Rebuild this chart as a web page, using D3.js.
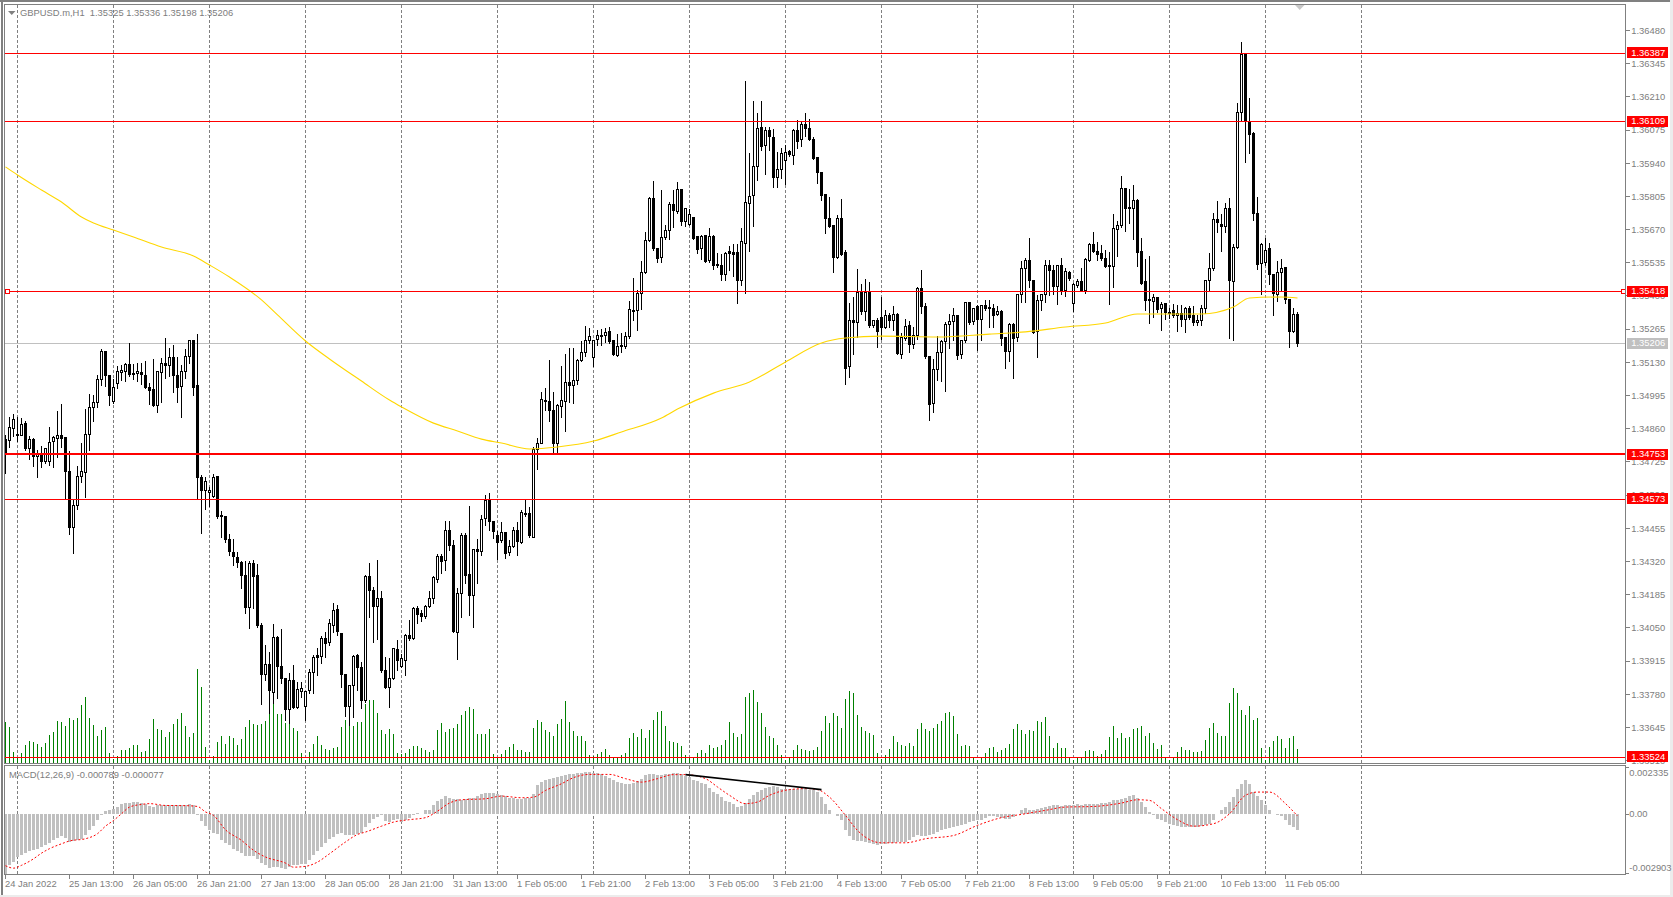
<!DOCTYPE html>
<html><head><meta charset="utf-8"><title>GBPUSD.m,H1</title>
<script src="https://cdn.jsdelivr.net/npm/d3@7/dist/d3.min.js"></script>
<style>html,body{margin:0;padding:0;background:#fff;overflow:hidden}svg{display:block}text{font-family:"Liberation Sans",Arial,sans-serif;font-size:9.4px}</style>
</head><body><svg id="c" width="1673" height="897"></svg>
<script>
const opens=[1.34817,1.34812,1.34861,1.34836,1.34833,1.34880,1.34779,1.34817,1.34747,1.34758,
1.34726,1.34726,1.34808,1.34821,1.34833,1.34823,1.34687,1.34458,1.34549,1.34665,
1.34683,1.34838,1.34947,1.34968,1.35061,1.35175,1.35078,1.34970,1.35045,1.35090,
1.35092,1.35122,1.35086,1.35084,1.35090,1.35078,1.35029,1.35018,1.34954,1.35088,
1.35126,1.35117,1.35151,1.35078,1.35031,1.35094,1.35153,1.35219,1.35034,1.34663,
1.34608,1.34600,1.34584,1.34664,1.34508,1.34505,1.34410,1.34357,1.34338,1.34318,
1.34264,1.34134,1.34313,1.34264,1.34061,1.33860,1.33902,1.33787,1.34012,1.33894,
1.33845,1.33719,1.33838,1.33727,1.33791,1.33730,1.33795,1.33868,1.33936,1.33933,
1.34008,1.33990,1.34059,1.34125,1.34028,1.33861,1.33729,1.33815,1.33936,1.33889,
1.33757,1.34261,1.34201,1.34136,1.34170,1.33876,1.33807,1.33845,1.33963,1.33895,
1.33918,1.34020,1.34007,1.34129,1.34109,1.34096,1.34136,1.34170,1.34247,1.34341,
1.34323,1.34447,1.34386,1.34032,1.34190,1.34426,1.34269,1.34181,1.34369,1.34359,
1.34496,1.34570,1.34483,1.34426,1.34407,1.34439,1.34356,1.34380,1.34448,1.34399,
1.34516,1.34516,1.34418,1.34776,1.34801,1.34977,1.34971,1.34936,1.34801,1.34950,
1.34970,1.35047,1.35038,1.35055,1.35137,1.35169,1.35217,1.35150,1.35223,1.35241,
1.35240,1.35256,1.35217,1.35157,1.35200,1.35193,1.35234,1.35343,1.35340,1.35410,
1.35496,1.35625,1.35797,1.35594,1.35555,1.35637,1.35665,1.35772,1.35744,1.35834,
1.35702,1.35690,1.35721,1.35641,1.35592,1.35648,1.35543,1.35644,1.35530,1.35526,
1.35486,1.35579,1.35575,1.35575,1.35462,1.35614,1.35777,1.35809,1.35927,1.36086,
1.36011,1.36074,1.36045,1.35881,1.35915,1.35950,1.35988,1.35970,1.36074,1.36037,
1.36098,1.36082,1.36038,1.35964,1.35904,1.35813,1.35716,1.35688,1.35555,1.35716,
1.35578,1.35112,1.35302,1.35294,1.35413,1.35338,1.35417,1.35279,1.35302,1.35313,
1.35272,1.35321,1.35299,1.35325,1.35163,1.35227,1.35281,1.35203,1.35241,1.35431,
1.35359,1.35155,1.34963,1.35101,1.35170,1.35214,1.35283,1.35296,1.35322,1.35162,
1.35218,1.35374,1.35295,1.35359,1.35303,1.35361,1.35352,1.35349,1.35323,1.35337,
1.35230,1.35173,1.35284,1.35231,1.35406,1.35511,1.35546,1.35465,1.35254,1.35380,
1.35406,1.35526,1.35505,1.35437,1.35524,1.35421,1.35497,1.35370,1.35443,1.35460,
1.35424,1.35546,1.35610,1.35583,1.35571,1.35553,1.35526,1.35519,1.35672,1.35686,
1.35838,1.35761,1.35755,1.35789,1.35579,1.35457,1.35386,1.35377,1.35394,1.35348,
1.35369,1.35333,1.35342,1.35320,1.35329,1.35305,1.35350,1.35319,1.35291,1.35300,
1.35350,1.35462,1.35511,1.35712,1.35691,1.35682,1.35757,1.35458,1.35596,1.36147,
1.36384,1.36109,1.36062,1.35736,1.35533,1.35536,1.35594,1.35488,1.35407,1.35496,
1.35514,1.35386,1.35255,1.35325];
const highs=[1.34835,1.34907,1.34920,1.34907,1.34904,1.34890,1.34831,1.34823,1.34774,1.34790,
1.34781,1.34869,1.34831,1.34932,1.34961,1.34823,1.34771,1.34570,1.34709,1.34801,
1.34939,1.35002,1.34998,1.35080,1.35185,1.35175,1.35078,1.35061,1.35115,1.35120,
1.35129,1.35209,1.35124,1.35126,1.35126,1.35137,1.35048,1.35143,1.35094,1.35147,
1.35229,1.35189,1.35201,1.35153,1.35120,1.35183,1.35219,1.35219,1.35246,1.34672,
1.34663,1.34625,1.34676,1.34668,1.34527,1.34505,1.34432,1.34410,1.34360,1.34324,
1.34324,1.34324,1.34326,1.34309,1.34071,1.33981,1.33953,1.34066,1.34017,1.34044,
1.33845,1.33865,1.33899,1.33831,1.33831,1.33795,1.33882,1.33939,1.33967,1.34017,
1.34035,1.34085,1.34153,1.34143,1.34028,1.33862,1.33816,1.33938,1.33944,1.33913,
1.34265,1.34313,1.34218,1.34326,1.34199,1.33933,1.33926,1.33967,1.34003,1.33946,
1.34025,1.34082,1.34134,1.34139,1.34123,1.34143,1.34200,1.34261,1.34350,1.34350,
1.34485,1.34483,1.34407,1.34211,1.34437,1.34435,1.34546,1.34369,1.34410,1.34509,
1.34592,1.34597,1.34486,1.34445,1.34481,1.34439,1.34407,1.34462,1.34482,1.34530,
1.34573,1.34543,1.34787,1.34821,1.35010,1.35024,1.35139,1.35010,1.34960,1.35115,
1.35166,1.35187,1.35187,1.35142,1.35218,1.35278,1.35268,1.35221,1.35261,1.35264,
1.35268,1.35272,1.35217,1.35244,1.35248,1.35255,1.35381,1.35472,1.35424,1.35543,
1.35659,1.35804,1.35867,1.35594,1.35831,1.35688,1.35783,1.35831,1.35862,1.35834,
1.35756,1.35752,1.35721,1.35644,1.35648,1.35650,1.35675,1.35648,1.35573,1.35570,
1.35580,1.35603,1.35611,1.35611,1.35678,1.36274,1.35980,1.36193,1.36143,1.36192,
1.36088,1.36088,1.36078,1.35987,1.36003,1.36014,1.35994,1.36078,1.36116,1.36109,
1.36143,1.36118,1.36045,1.35964,1.35905,1.35813,1.35804,1.35688,1.35729,1.35793,
1.35587,1.35372,1.35397,1.35509,1.35448,1.35471,1.35458,1.35302,1.35309,1.35397,
1.35342,1.35329,1.35359,1.35329,1.35248,1.35306,1.35299,1.35275,1.35437,1.35505,
1.35370,1.35155,1.35142,1.35238,1.35220,1.35295,1.35326,1.35353,1.35322,1.35223,
1.35374,1.35374,1.35349,1.35365,1.35363,1.35383,1.35383,1.35367,1.35359,1.35345,
1.35230,1.35291,1.35291,1.35408,1.35543,1.35553,1.35634,1.35467,1.35403,1.35408,
1.35546,1.35546,1.35526,1.35526,1.35553,1.35512,1.35502,1.35451,1.35471,1.35512,
1.35553,1.35614,1.35660,1.35621,1.35607,1.35587,1.35580,1.35733,1.35705,1.35888,
1.35841,1.35835,1.35851,1.35793,1.35634,1.35552,1.35563,1.35408,1.35397,1.35377,
1.35373,1.35350,1.35367,1.35363,1.35363,1.35357,1.35359,1.35359,1.35323,1.35363,
1.35465,1.35573,1.35739,1.35785,1.35733,1.35777,1.35800,1.35611,1.36186,1.36432,
1.36387,1.36204,1.36067,1.35801,1.35614,1.35634,1.35614,1.35488,1.35542,1.35549,
1.35514,1.35386,1.35350,1.35336];
const lows=[1.34679,1.34787,1.34831,1.34812,1.34833,1.34774,1.34739,1.34709,1.34665,1.34706,
1.34722,1.34713,1.34706,1.34747,1.34787,1.34573,1.34432,1.34356,1.34532,1.34645,
1.34584,1.34774,1.34893,1.34950,1.35038,1.35034,1.34957,1.34966,1.35025,1.35059,
1.35056,1.35075,1.35063,1.35054,1.35042,1.35025,1.34961,1.34953,1.34930,1.34970,
1.35065,1.35075,1.35011,1.34970,1.34909,1.35065,1.35129,1.34998,1.34577,1.34437,
1.34534,1.34546,1.34584,1.34496,1.34421,1.34401,1.34347,1.34306,1.34299,1.34214,
1.34112,1.34051,1.34130,1.34055,1.33741,1.33838,1.33703,1.33746,1.33764,1.33825,
1.33675,1.33662,1.33723,1.33723,1.33770,1.33675,1.33787,1.33787,1.33859,1.33909,
1.33933,1.33981,1.34035,1.34021,1.33811,1.33692,1.33655,1.33689,1.33797,1.33723,
1.33750,1.34096,1.33994,1.34005,1.33872,1.33804,1.33729,1.33841,1.33881,1.33892,
1.33858,1.34001,1.34006,1.34071,1.34079,1.34092,1.34136,1.34150,1.34238,1.34275,
1.34285,1.34367,1.34035,1.33925,1.34096,1.34231,1.34102,1.34055,1.34234,1.34346,
1.34469,1.34448,1.34414,1.34332,1.34401,1.34334,1.34346,1.34378,1.34346,1.34397,
1.34505,1.34421,1.34418,1.34696,1.34801,1.34936,1.34893,1.34760,1.34760,1.34909,
1.34852,1.34970,1.34966,1.35044,1.35137,1.35156,1.35207,1.35115,1.35200,1.35202,
1.35214,1.35207,1.35160,1.35156,1.35173,1.35187,1.35231,1.35302,1.35261,1.35347,
1.35492,1.35625,1.35589,1.35539,1.35537,1.35630,1.35633,1.35682,1.35739,1.35687,
1.35684,1.35688,1.35631,1.35576,1.35550,1.35537,1.35539,1.35508,1.35519,1.35465,
1.35465,1.35505,1.35481,1.35372,1.35443,1.35413,1.35583,1.35686,1.35872,1.35994,
1.35896,1.35994,1.35844,1.35844,1.35878,1.35855,1.35969,1.35937,1.36000,1.36010,
1.36050,1.36034,1.35956,1.35858,1.35790,1.35655,1.35679,1.35499,1.35553,1.35566,
1.35044,1.35071,1.35163,1.35234,1.35326,1.35302,1.35275,1.35275,1.35193,1.35227,
1.35268,1.35275,1.35261,1.35163,1.35148,1.35223,1.35173,1.35187,1.35227,1.35329,
1.35146,1.34895,1.34928,1.35060,1.35055,1.35014,1.35187,1.35220,1.35145,1.35146,
1.35214,1.35285,1.35288,1.35180,1.35220,1.35342,1.35275,1.35272,1.35321,1.35200,
1.35107,1.35136,1.35067,1.35218,1.35375,1.35376,1.35437,1.35250,1.35153,1.35342,
1.35376,1.35403,1.35408,1.35367,1.35410,1.35399,1.35465,1.35338,1.35437,1.35420,
1.35413,1.35544,1.35580,1.35546,1.35546,1.35517,1.35366,1.35438,1.35563,1.35682,
1.35664,1.35698,1.35632,1.35522,1.35449,1.35343,1.35291,1.35316,1.35336,1.35262,
1.35306,1.35309,1.35313,1.35258,1.35278,1.35255,1.35305,1.35282,1.35282,1.35282,
1.35332,1.35424,1.35506,1.35662,1.35584,1.35662,1.35230,1.35221,1.35594,1.36110,
1.35946,1.35983,1.35709,1.35508,1.35408,1.35526,1.35449,1.35323,1.35381,1.35424,
1.35373,1.35194,1.35255,1.35198];
const closes=[1.34758,1.34866,1.34896,1.34832,1.34878,1.34779,1.34817,1.34747,1.34760,1.34726,
1.34781,1.34804,1.34825,1.34833,1.34821,1.34686,1.34458,1.34549,1.34667,1.34687,
1.34838,1.34947,1.34968,1.35061,1.35175,1.35076,1.34995,1.35029,1.35091,1.35095,
1.35120,1.35079,1.35080,1.35094,1.35080,1.35027,1.35015,1.34954,1.35094,1.35126,
1.35117,1.35151,1.35075,1.35027,1.35094,1.35155,1.35219,1.35027,1.34661,1.34608,
1.34646,1.34610,1.34663,1.34503,1.34503,1.34408,1.34360,1.34340,1.34318,1.34263,
1.34134,1.34313,1.34258,1.34058,1.33860,1.33902,1.33795,1.34012,1.33892,1.33844,
1.33719,1.33838,1.33727,1.33800,1.33803,1.33792,1.33868,1.33930,1.33930,1.34008,
1.33987,1.34069,1.34123,1.34035,1.33860,1.33729,1.33816,1.33934,1.33888,1.33757,
1.34261,1.34201,1.34136,1.34170,1.33876,1.33807,1.33845,1.33967,1.33919,1.33926,
1.34020,1.34007,1.34129,1.34105,1.34096,1.34136,1.34170,1.34256,1.34341,1.34319,
1.34447,1.34384,1.34035,1.34190,1.34424,1.34262,1.34181,1.34369,1.34359,1.34492,
1.34570,1.34482,1.34441,1.34397,1.34437,1.34353,1.34380,1.34448,1.34401,1.34520,
1.34512,1.34424,1.34776,1.34801,1.34979,1.34970,1.34934,1.34801,1.34953,1.34974,
1.35047,1.35038,1.35057,1.35139,1.35170,1.35219,1.35236,1.35221,1.35240,1.35238,
1.35253,1.35214,1.35162,1.35195,1.35193,1.35237,1.35345,1.35337,1.35410,1.35496,
1.35625,1.35797,1.35592,1.35552,1.35638,1.35667,1.35772,1.35747,1.35834,1.35701,
1.35756,1.35732,1.35635,1.35588,1.35644,1.35542,1.35644,1.35523,1.35523,1.35486,
1.35573,1.35573,1.35570,1.35465,1.35622,1.35781,1.35805,1.35927,1.36082,1.36010,
1.36074,1.36048,1.35881,1.35915,1.35980,1.35984,1.35975,1.36075,1.36027,1.36098,
1.36080,1.36037,1.35958,1.35901,1.35810,1.35714,1.35682,1.35555,1.35716,1.35569,
1.35107,1.35302,1.35291,1.35416,1.35338,1.35416,1.35279,1.35302,1.35254,1.35272,
1.35321,1.35299,1.35325,1.35165,1.35230,1.35276,1.35201,1.35241,1.35431,1.35356,
1.35153,1.34960,1.35101,1.35170,1.35216,1.35285,1.35296,1.35321,1.35159,1.35220,
1.35374,1.35291,1.35349,1.35303,1.35361,1.35349,1.35349,1.35322,1.35337,1.35227,
1.35173,1.35284,1.35227,1.35408,1.35512,1.35546,1.35462,1.35252,1.35383,1.35406,
1.35524,1.35502,1.35437,1.35524,1.35421,1.35500,1.35470,1.35447,1.35459,1.35424,
1.35549,1.35610,1.35583,1.35568,1.35552,1.35519,1.35519,1.35675,1.35687,1.35838,
1.35755,1.35755,1.35789,1.35576,1.35451,1.35381,1.35381,1.35394,1.35347,1.35366,
1.35333,1.35331,1.35320,1.35329,1.35305,1.35350,1.35313,1.35291,1.35301,1.35350,
1.35464,1.35511,1.35712,1.35698,1.35682,1.35757,1.35462,1.35596,1.36147,1.36384,
1.36113,1.36056,1.35736,1.35530,1.35610,1.35587,1.35488,1.35411,1.35496,1.35512,
1.35384,1.35255,1.35325,1.35206];
const volumes=[124,109,34,19,31,54,66,64,58,49,61,85,94,127,124,112,136,130,136,175,
199,136,115,82,100,109,31,13,22,40,40,46,54,55,34,37,73,133,103,100,
79,94,118,133,151,112,79,91,282,229,49,10,22,64,82,58,82,76,55,73,
109,130,118,115,118,127,178,190,148,148,120,120,106,97,31,10,32,58,82,55,
43,38,46,49,107,129,114,111,124,124,177,189,189,151,99,87,102,87,29,27,
31,42,51,51,44,39,34,39,99,119,93,101,105,117,144,156,168,162,87,87,
87,102,27,14,27,39,47,57,39,39,34,34,104,128,123,99,93,81,117,132,
186,123,97,81,81,66,24,20,27,34,42,24,14,17,24,29,74,89,77,102,
74,99,129,153,156,111,66,63,60,51,24,14,17,30,39,30,54,45,48,54,
69,123,90,78,87,198,210,219,183,150,108,81,75,54,24,9,17,39,54,42,
39,36,39,48,96,141,120,150,141,105,192,216,210,144,108,96,90,84,30,12,
24,42,81,63,54,51,60,51,102,120,102,96,105,117,126,150,153,141,87,51,
54,51,15,9,16,30,45,48,33,39,45,57,102,117,99,87,99,96,126,123,
138,81,45,60,45,45,14,10,14,16,36,39,36,21,27,39,78,111,75,90,
75,78,102,105,111,81,90,60,42,54,14,8,14,33,48,39,39,33,33,36,
69,105,120,90,81,81,180,225,210,159,144,171,130,136,46,10,49,67,82,73,
46,76,82,43];
const macdHist=[-296,-251,-235,-210,-202,-191,-181,-177,-169,-161,-153,-140,-128,-115,-108,-117,-135,-133,-125,-120,
-104,-79,-56,-30,-3,16,23,28,36,49,56,58,59,59,58,49,39,36,44,48,
48,48,46,44,44,48,49,44,-2,-33,-59,-79,-92,-99,-125,-141,-153,-169,-182,-189,
-207,-205,-205,-219,-240,-250,-263,-260,-260,-263,-271,-260,-251,-248,-246,-243,-223,-200,-181,-161,
-141,-123,-112,-99,-92,-104,-104,-104,-99,-92,-62,-43,-21,-13,-5,-35,-38,-30,-21,-38,
-26,-18,-5,7,3,20,23,44,66,77,89,82,77,74,72,76,79,82,92,102,
105,104,104,102,95,89,82,79,77,76,79,82,102,143,159,171,176,181,184,187,
192,197,200,204,205,207,207,205,204,200,191,181,171,161,154,151,151,154,164,176,
192,197,197,196,194,197,200,202,204,197,191,184,171,164,154,148,131,110,99,85,
66,59,49,36,43,56,77,94,110,122,128,135,138,135,127,125,127,125,127,127,
123,122,118,110,85,53,23,3,-10,-30,-79,-108,-125,-130,-133,-136,-141,-148,-153,-148,
-145,-143,-141,-138,-136,-136,-125,-112,-104,-105,-105,-104,-95,-87,-79,-72,-67,-62,-56,-51,
-46,-39,-35,-30,-26,-16,-10,-7,-13,-20,-23,-21,-13,3,20,33,23,23,28,30,
36,39,44,44,43,44,44,46,49,48,53,53,49,53,56,56,61,69,72,77,
82,89,94,82,61,36,11,-5,-21,-30,-38,-46,-51,-58,-62,-62,-64,-64,-62,-59,
-53,-46,-26,3,20,36,61,85,127,151,168,148,110,89,69,44,20,3,-2,-10,
-30,-54,-62,-79];
const signalBars=[0,2,4,7,9,11,14,16,20,23,25,27,29,31,34,36,40,45,48,50,52,55,59,62,65,70,72,75,78,81,85,88,90,94,97,101,105,108,111,114,120,124,129,132,135,139,142,146,151,155,159,163,167,170,175,178,181,185,188,191,196,200,203,206,210,213,219,225,230,237,243,249,254,260,265,272,279,283,286,289,293,297,302,306,310,313,316,320,323];
const signalVals=[-253,-265,-251,-219,-191,-169,-145,-131,-120,-95,-58,-30,3,36,49,53,44,43,39,12,-5,-76,-128,-177,-210,-240,-260,-256,-235,-194,-136,-99,-87,-58,-38,-26,-16,16,56,72,77,90,82,85,118,151,181,197,197,176,159,176,196,196,176,135,94,53,61,94,122,127,122,85,-5,-79,-140,-140,-120,-104,-54,-16,0,20,36,39,56,72,69,28,-26,-58,-46,3,94,110,110,53,-8];
const maBars=[0,3,9,14,19,22,27,32,39,47,51,56,64,68,75,81,89,96,99,107,113,119,124,131,138,147,154,164,168,177,186,195,204,210,219,233,246,255,265,275,283,299,307,311,319,323];
const maVals=[1.35925,1.35892,1.35831,1.35782,1.35721,1.35697,1.35668,1.35640,1.35599,1.35563,1.35526,1.35477,1.35384,1.35323,1.35217,1.35144,1.35054,1.34977,1.34949,1.34883,1.34851,1.34818,1.34802,1.34778,1.34786,1.34810,1.34847,1.34904,1.34940,1.35005,1.35050,1.35132,1.35209,1.35229,1.35237,1.35233,1.35245,1.35254,1.35274,1.35290,1.35327,1.35327,1.35355,1.35392,1.35396,1.35392];
const trendBars=[170,204];
const trendVals=[196,122];
const gridBars=[3,27,51,75,99,123,147,171,195,219,243,267,291,315,339];
const timeBars=[0,16,32,48,64,80,96,112,128,144,160,176,192,208,224,240,256,272,288,304,320];
const timeLabels=["24 Jan 2022","25 Jan 13:00","26 Jan 05:00","26 Jan 21:00","27 Jan 13:00","28 Jan 05:00","28 Jan 21:00","31 Jan 13:00","1 Feb 05:00","1 Feb 21:00","2 Feb 13:00","3 Feb 05:00","3 Feb 21:00","4 Feb 13:00","7 Feb 05:00","7 Feb 21:00","8 Feb 13:00","9 Feb 05:00","9 Feb 21:00","10 Feb 13:00","11 Feb 05:00"];
const priceTicks=[1.36480,1.36345,1.36210,1.36075,1.35940,1.35805,1.35670,1.35535,1.35400,1.35265,1.35130,1.34995,1.34860,1.34725,1.34590,1.34455,1.34320,1.34185,1.34050,1.33915,1.33780,1.33645,1.33510];
const levels=[1.36387,1.36109,1.35418,1.34753,1.34573,1.33524];
const thickLevel=1.34753;
const markedLevel=1.35418;
const lastPrice=1.35206;
const macdTicks=[233.5,0,-290.3];
const macdTickLabels=["0.002335","0.00","-0.002903"];
const macdTickTextY=[772.7,814,867.7];
const titleText="GBPUSD.m,H1  1.35325 1.35336 1.35198 1.35206";
const macdTitle="MACD(12,26,9) -0.000789 -0.000077";

const paneL=4.5,paneR=1625.5,paneT=4.5,mainBottom=763.5,macdTop=765.5,macdBottom=874;
const GREY="#808080",TXT="#7d7d7d",RED="#ff0000";
const x=d3.scaleLinear().domain([0,323]).range([5.5,1297.5]);
const y=d3.scaleLinear().domain([1.36387,1.33524]).range([53.3,757.3]);
const yVol=d3.scaleLinear().domain([0,309]).range([763,660]);
const yM=d3.scaleLinear().domain([-290.3,233.5]).range([873.3,767]);
const px=v=>Math.floor(v)+.5;
const svg=d3.select("#c");
const defs=svg.append("defs");
defs.append("clipPath").attr("id","cm").append("rect").attr("x",paneL).attr("y",paneT).attr("width",paneR-paneL).attr("height",mainBottom-paneT);
defs.append("clipPath").attr("id","cd").append("rect").attr("x",paneL).attr("y",macdTop).attr("width",paneR-paneL).attr("height",macdBottom-macdTop);

// window frame
svg.append("rect").attr("width",1673).attr("height",897).attr("fill","#fff");
svg.append("rect").attr("x",0).attr("y",0).attr("width",1673).attr("height",2).attr("fill",GREY);
svg.append("rect").attr("x",1).attr("y",0).attr("width",2).attr("height",897).attr("fill",GREY);
svg.append("rect").attr("x",0).attr("y",895).attr("width",1673).attr("height",2).attr("fill","#ececec");
svg.append("rect").attr("x",1670).attr("y",0).attr("width",3).attr("height",897).attr("fill","#ececec");

const crisp=g=>g.attr("shape-rendering","crispEdges");
const main=svg.append("g").attr("clip-path","url(#cm)");
const macd=svg.append("g").attr("clip-path","url(#cd)");

// grid
[[main,paneT,mainBottom],[macd,macdTop,macdBottom]].forEach(([g,a,b])=>{
  g.append("g").call(crisp).selectAll("line").data(gridBars).join("line")
   .attr("x1",d=>x(d)).attr("x2",d=>x(d)).attr("y1",a).attr("y2",b)
   .attr("stroke",GREY).attr("stroke-dasharray","3 2");
});

// current-price line behind the candles
main.append("line").call(crisp).attr("x1",paneL).attr("x2",paneR).attr("y1",px(y(lastPrice))).attr("y2",px(y(lastPrice))).attr("stroke","#c0c0c0");

// volumes
main.append("g").call(crisp).selectAll("line").data(volumes).join("line")
 .attr("x1",(d,i)=>x(i)).attr("x2",(d,i)=>x(i)).attr("y1",763).attr("y2",d=>yVol(d)).attr("stroke","#008000");

// candles
const candles=opens.map((o,i)=>({i,o,h:highs[i],l:lows[i],c:closes[i]}));
const cg=main.append("g").call(crisp);
cg.selectAll("line").data(candles).join("line")
 .attr("x1",d=>x(d.i)).attr("x2",d=>x(d.i)).attr("y1",d=>Math.round(y(d.h))).attr("y2",d=>Math.round(y(d.l))+1).attr("stroke","#000");
cg.selectAll("rect").data(candles).join("rect")
 .attr("x",d=>x(d.i)-1).attr("width",2)
 .attr("y",d=>px(y(Math.max(d.o,d.c))))
 .attr("height",d=>Math.max(1,px(y(Math.min(d.o,d.c)))-px(y(Math.max(d.o,d.c)))))
 .attr("fill",d=>d.c>=d.o?"#fff":"#000").attr("stroke","#000");

// moving average
main.append("path").datum(maBars).attr("fill","none").attr("stroke","#ffd700").attr("stroke-width",1.1)
 .attr("d",d3.line().x(d=>x(d)).y((d,i)=>y(maVals[i])).curve(d3.curveMonotoneX));

// horizontal levels
main.append("g").call(crisp).selectAll("line").data(levels).join("line")
 .attr("x1",paneL).attr("x2",paneR)
 .attr("y1",d=>d===thickLevel?Math.round(y(d))-1:px(y(d)))
 .attr("y2",d=>d===thickLevel?Math.round(y(d))-1:px(y(d)))
 .attr("stroke",RED).attr("stroke-width",d=>d===thickLevel?2:1);

// selected-level handles
[6,paneR-3.5].forEach(hx=>{
  svg.append("rect").call(crisp).attr("x",hx-.5).attr("y",px(y(markedLevel))-2).attr("width",4).attr("height",4).attr("fill","#fff").attr("stroke",RED);
});

// MACD histogram and signal
macd.append("g").call(crisp).selectAll("rect").data(macdHist).join("rect")
 .attr("x",(d,i)=>x(i)-1.5).attr("width",3)
 .attr("y",d=>Math.min(yM(d),yM(0))).attr("height",d=>Math.max(.6,Math.abs(yM(d)-yM(0))))
 .attr("fill","#c0c0c0");
macd.append("path").datum(signalBars).attr("fill","none").attr("stroke",RED).attr("stroke-width",1).attr("stroke-dasharray","2 2")
 .attr("d",d3.line().x(d=>x(d)).y((d,i)=>yM(signalVals[i])).curve(d3.curveMonotoneX));
macd.append("path").datum(trendBars).attr("fill","none").attr("stroke","#000").attr("stroke-width",1.6)
 .attr("d",d3.line().x(d=>x(d)).y((d,i)=>yM(trendVals[i])));

// frames
[[paneL,paneT,paneR-paneL,mainBottom-paneT],[paneL,macdTop,paneR-paneL,macdBottom-macdTop]].forEach(r=>{
  svg.append("rect").call(crisp).attr("x",r[0]).attr("y",r[1]).attr("width",r[2]).attr("height",r[3]).attr("fill","none").attr("stroke",GREY);
});

// triangles
svg.append("path").attr("d","M8,11L15.5,11L11.75,15Z").attr("fill",GREY);
svg.append("path").attr("d","M1295,5L1304.5,5L1299.75,10Z").attr("fill","#c8c8c8");

// titles
const T=(s,tx,ty,fill,anchor)=>svg.append("text").text(s).attr("x",tx).attr("y",ty).attr("dy","0.35em").attr("fill",fill||TXT).attr("text-anchor",anchor||"start").style("white-space","pre");
T(titleText,20,12.5);
T(macdTitle,9,774.7);

// price axis
const pAxis=svg.append("g");
pAxis.selectAll("line").data(priceTicks).join("line").call(crisp)
 .attr("x1",paneR).attr("x2",paneR+4).attr("y1",d=>px(y(d))).attr("y2",d=>px(y(d))).attr("stroke",GREY);
pAxis.selectAll("text").data(priceTicks).join("text").text(d=>d.toFixed(5))
 .attr("x",1631.3).attr("y",d=>y(d)).attr("dy","0.35em").attr("fill",TXT);

// level labels
const lab=svg.append("g");
lab.selectAll("rect.lv").data(levels).join("rect").attr("class","lv").call(crisp)
 .attr("x",1627).attr("width",41).attr("y",d=>Math.round(y(d))-6).attr("height",10.5).attr("fill",RED);
lab.selectAll("text.lv").data(levels).join("text").attr("class","lv").text(d=>d.toFixed(5))
 .attr("x",1631.3).attr("y",d=>y(d)-1).attr("dy","0.35em").attr("fill","#fff");
lab.append("rect").call(crisp).attr("x",1627).attr("width",41).attr("y",Math.round(y(lastPrice))-6).attr("height",10.5).attr("fill","#c0c0c0");
lab.append("text").text(lastPrice.toFixed(5)).attr("x",1631.3).attr("y",y(lastPrice)-1).attr("dy","0.35em").attr("fill","#fff");

// macd axis
const mAxis=svg.append("g");
mAxis.selectAll("line").data(macdTicks).join("line").call(crisp)
 .attr("x1",paneR).attr("x2",paneR+3).attr("y1",d=>px(yM(d))).attr("y2",d=>px(yM(d))).attr("stroke",GREY);
mAxis.selectAll("text").data(macdTickLabels).join("text").text(d=>d)
 .attr("x",1629.3).attr("y",(d,i)=>macdTickTextY[i]).attr("dy","0.35em").attr("fill",TXT);

// time axis
const tAxis=svg.append("g");
tAxis.selectAll("line").data(timeBars).join("line").call(crisp)
 .attr("x1",d=>x(d)).attr("x2",d=>x(d)).attr("y1",macdBottom).attr("y2",macdBottom+5).attr("stroke",GREY);
tAxis.selectAll("text").data(timeLabels).join("text").text(d=>d)
 .attr("x",(d,i)=>x(timeBars[i])-.5).attr("y",884).attr("dy","0.35em").attr("fill",TXT);
</script></body></html>
